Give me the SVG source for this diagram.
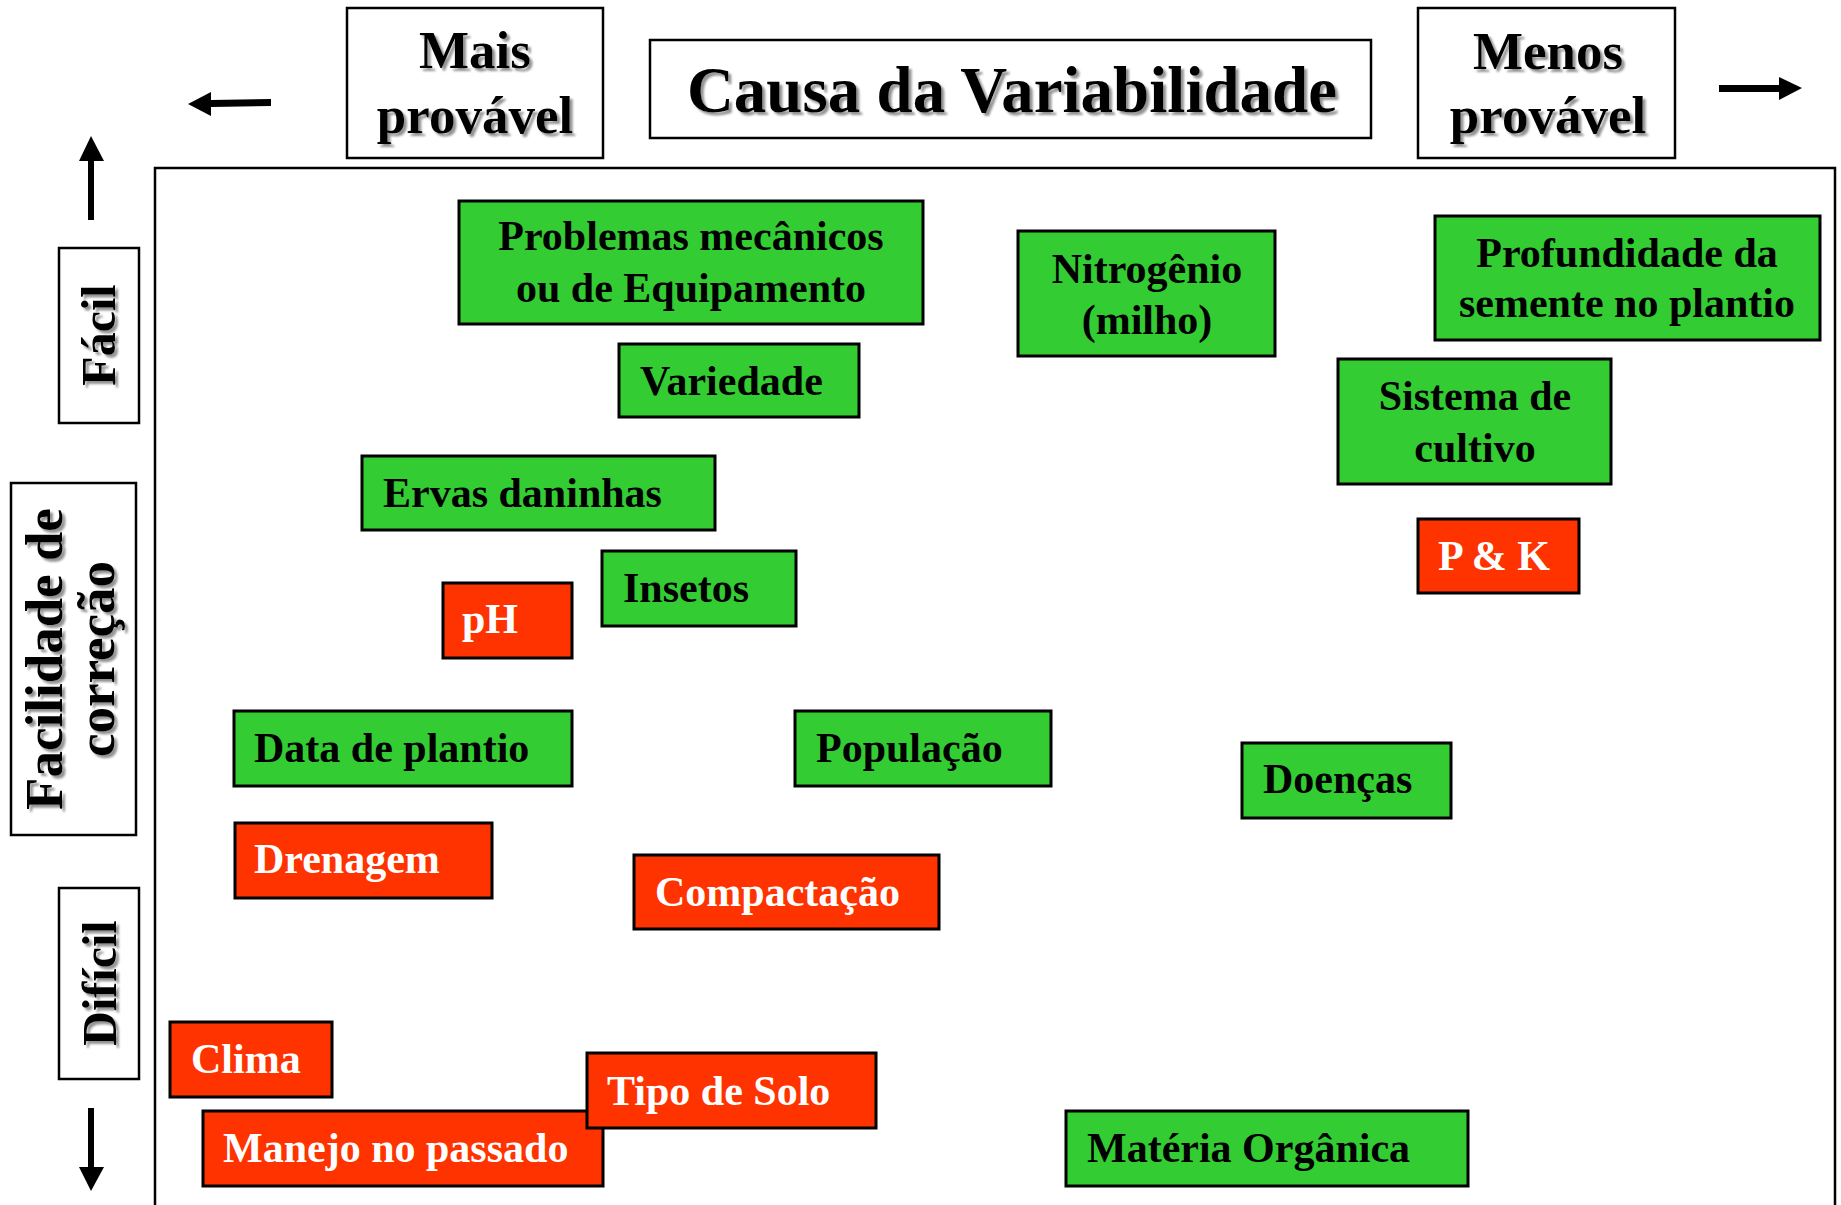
<svg xmlns="http://www.w3.org/2000/svg" width="1841" height="1205" viewBox="0 0 1841 1205">
<defs>
<filter id="sh" x="-10%" y="-10%" width="130%" height="130%"><feDropShadow dx="3" dy="3" stdDeviation="1" flood-color="#808080" flood-opacity="0.85"/></filter>
</defs>
<style>
.t{font-family:"Liberation Serif","Times New Roman",serif;font-weight:bold}
.g{fill:#33CC33;stroke:#000;stroke-width:3}
.r{fill:#FF3300;stroke:#000;stroke-width:3}
.lb{fill:#fff;stroke:#000;stroke-width:2.5}
.n{font-size:42px;fill:#000}
.w{font-size:42px;fill:#fff}
.big{font-size:53px;fill:#000;text-anchor:middle}
.ar{fill:#000;stroke:none}
</style>
<rect width="1841" height="1205" fill="#fff"/>
<path d="M155,1215 V168 H1835 V1215" fill="none" stroke="#000" stroke-width="2.5"/>

<g id="mais-provavel">
<rect class="lb" x="347" y="8" width="256" height="150"/>
<g filter="url(#sh)"><text class="t big" x="475" y="68">Mais</text><text class="t big" x="475" y="133">provável</text></g>
</g>
<g id="titulo">
<rect class="lb" x="650" y="40" width="721" height="98"/>
<g filter="url(#sh)"><text class="t" x="1012" y="112" font-size="65" text-anchor="middle">Causa da Variabilidade</text></g>
</g>
<g id="menos-provavel">
<rect class="lb" x="1418" y="8" width="257" height="150"/>
<g filter="url(#sh)"><text class="t big" x="1548" y="69">Menos</text><text class="t big" x="1548" y="133">provável</text></g>
</g>

<g id="facil">
<rect class="lb" x="59" y="248" width="80" height="175"/>
<g filter="url(#sh)"><text class="t" transform="translate(115,335) rotate(-90)" font-size="48" text-anchor="middle">Fácil</text></g>
</g>
<g id="facilidade">
<rect class="lb" x="11" y="483" width="125" height="352"/>
<g filter="url(#sh)"><text class="t" transform="translate(62,659) rotate(-90)" font-size="53" text-anchor="middle">Facilidade de</text><text class="t" transform="translate(114,659) rotate(-90)" font-size="53" text-anchor="middle">correção</text></g>
</g>
<g id="dificil">
<rect class="lb" x="59" y="888" width="80" height="191"/>
<g filter="url(#sh)"><text class="t" transform="translate(116,983) rotate(-90)" font-size="48" text-anchor="middle">Difícil</text></g>
</g>

<g id="connectors">
<path class="ar" d="M188,104 L211,92 L211,100 L271,99 L271,106 L211,107 L211,116 Z"/>
<path class="ar" d="M1802,88 L1779,77 L1779,85 L1719,85 L1719,92 L1779,92 L1779,100 Z"/>
<path class="ar" d="M91,136 L104,161 L94,161 L94,220 L88,220 L88,161 L79,161 Z"/>
<path class="ar" d="M91,1191 L104,1167 L94,1167 L94,1108 L88,1108 L88,1167 L79,1167 Z"/>
</g>

<g id="problemas">
<rect class="g" x="459" y="201" width="464" height="123"/>
<text class="t n" x="691" y="250" text-anchor="middle">Problemas mecânicos</text>
<text class="t n" x="691" y="302" text-anchor="middle">ou de Equipamento</text>
</g>
<g id="variedade">
<rect class="g" x="619" y="344" width="240" height="73"/>
<text class="t n" x="640" y="395">Variedade</text>
</g>
<g id="nitrogenio">
<rect class="g" x="1018" y="231" width="257" height="125"/>
<text class="t n" x="1147" y="283" text-anchor="middle">Nitrogênio</text>
<text class="t n" x="1147" y="334" text-anchor="middle">(milho)</text>
</g>
<g id="profundidade">
<rect class="g" x="1435" y="216" width="385" height="124"/>
<text class="t n" x="1627" y="267" text-anchor="middle">Profundidade da</text>
<text class="t n" x="1627" y="317" text-anchor="middle">semente no plantio</text>
</g>
<g id="sistema">
<rect class="g" x="1338" y="359" width="273" height="125"/>
<text class="t n" x="1475" y="410" text-anchor="middle">Sistema de</text>
<text class="t n" x="1475" y="462" text-anchor="middle">cultivo</text>
</g>
<g id="pk">
<rect class="r" x="1418" y="519" width="161" height="74"/>
<text class="t w" x="1438" y="570">P &amp; K</text>
</g>
<g id="ervas">
<rect class="g" x="362" y="456" width="353" height="74"/>
<text class="t n" x="383" y="507">Ervas daninhas</text>
</g>
<g id="insetos">
<rect class="g" x="602" y="551" width="194" height="75"/>
<text class="t n" x="623" y="602">Insetos</text>
</g>
<g id="ph">
<rect class="r" x="443" y="583" width="129" height="75"/>
<text class="t w" x="462" y="633">pH</text>
</g>
<g id="data-plantio">
<rect class="g" x="234" y="711" width="338" height="75"/>
<text class="t n" x="254" y="762">Data de plantio</text>
</g>
<g id="populacao">
<rect class="g" x="795" y="711" width="256" height="75"/>
<text class="t n" x="816" y="762">População</text>
</g>
<g id="doencas">
<rect class="g" x="1242" y="743" width="209" height="75"/>
<text class="t n" x="1263" y="793">Doenças</text>
</g>
<g id="drenagem">
<rect class="r" x="235" y="823" width="257" height="75"/>
<text class="t w" x="254" y="873">Drenagem</text>
</g>
<g id="compactacao">
<rect class="r" x="634" y="855" width="305" height="74"/>
<text class="t w" x="655" y="906">Compactação</text>
</g>
<g id="clima">
<rect class="r" x="170" y="1022" width="162" height="75"/>
<text class="t w" x="191" y="1073">Clima</text>
</g>
<g id="manejo">
<rect class="r" x="203" y="1111" width="400" height="75"/>
<text class="t w" x="223" y="1162">Manejo no passado</text>
</g>
<g id="tipo-solo">
<rect class="r" x="587" y="1053" width="289" height="75"/>
<text class="t w" x="607" y="1105">Tipo de Solo</text>
</g>
<g id="materia-organica">
<rect class="g" x="1066" y="1111" width="402" height="75"/>
<text class="t n" x="1087" y="1162">Matéria Orgânica</text>
</g>
</svg>
